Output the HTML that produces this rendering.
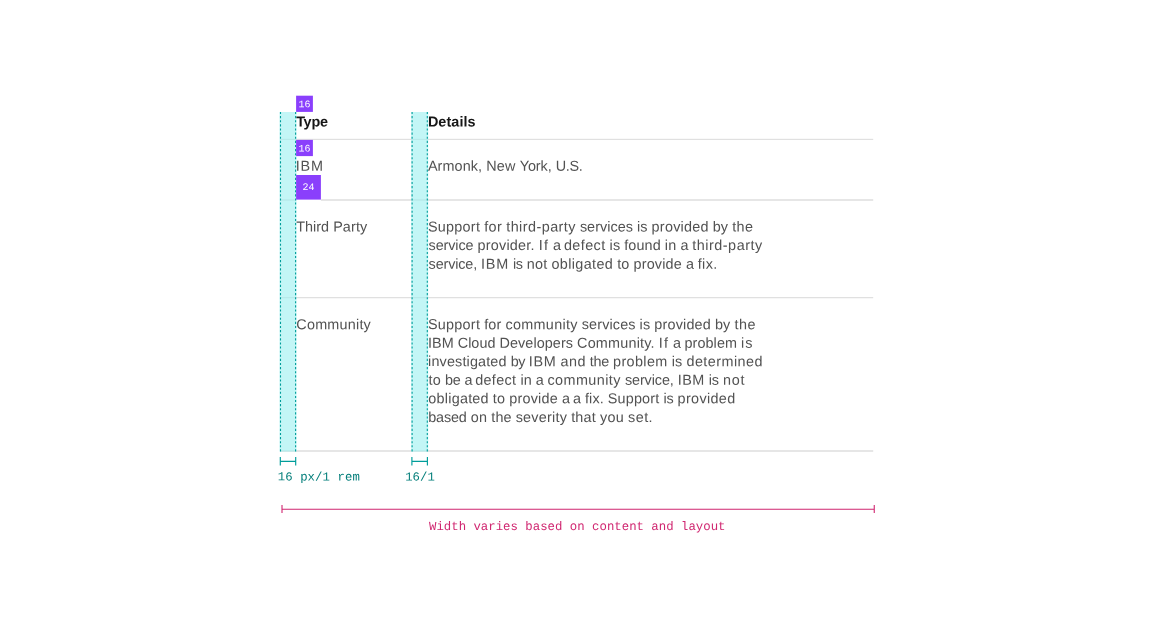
<!DOCTYPE html>
<html lang="en">
<head>
<meta charset="utf-8">
<title>Structured list spacing</title>
<style>
html,body{margin:0;padding:0;background:#fff;}
body{width:1152px;height:624px;overflow:hidden;position:relative;}
svg{position:absolute;left:0;top:0;display:block;}
text{white-space:pre;}
.b{font-family:"Liberation Sans",sans-serif;font-size:14.4px;fill:#525252;}
.h{font-family:"Liberation Sans",sans-serif;font-size:14.4px;font-weight:bold;fill:#161616;}
.m{font-family:"Liberation Mono","DejaVu Sans Mono",monospace;font-size:12.34px;}
.t{fill:#007d79;}
.p{fill:#d02670;}
.n{font-family:"Liberation Mono","DejaVu Sans Mono",monospace;font-size:10px;fill:#fff;text-anchor:middle;}
</style>
</head>
<body>
<svg width="1152" height="624" viewBox="0 0 1152 624">
  <!-- row rules -->
  <g fill="#e0e0e0">
    <rect x="280" y="138.8" width="593.2" height="1.2"/>
    <rect x="280" y="199.2" width="16.1" height="1.6"/><rect x="320.9" y="199.2" width="552.3" height="1.6"/>
    <rect x="280" y="297" width="593.2" height="1.25"/>
    <rect x="280" y="450.2" width="593.2" height="1.6"/>
  </g>
  <!-- spacing bands -->
  <g>
    <rect x="279.5" y="112" width="17" height="339.6" fill="#9ef0f0" fill-opacity="0.62"/>
    <rect x="411.2" y="112" width="17" height="339.6" fill="#9ef0f0" fill-opacity="0.62"/>
    <g stroke="#009d9a" stroke-width="1.1" stroke-dasharray="2.1 2.0143" fill="none">
      <line x1="280.5" y1="112" x2="280.5" y2="451.6"/>
      <line x1="295.6" y1="112" x2="295.6" y2="451.6"/>
      <line x1="412.1" y1="112" x2="412.1" y2="451.6"/>
      <line x1="427.3" y1="112" x2="427.3" y2="451.6"/>
    </g>
  </g>
  <!-- purple spacer tokens -->
  <g fill="#8a3ffc">
    <rect x="296.1" y="95.7" width="16.8" height="16.2"/>
    <rect x="296.1" y="139.9" width="16.8" height="16.2"/>
    <rect x="296.1" y="175" width="24.8" height="24.6"/>
  </g>

  <!-- table text (tiny skew enables sub-pixel vertical placement) -->
  <g transform="matrix(1 0.0005 0 1 0 0)">
  <text class="h" x="296.15" y="126.44" textLength="31.82" lengthAdjust="spacing">Type</text>
  <text class="h" x="427.90" y="126.37" textLength="47.73" lengthAdjust="spacing">Details</text>
  <text class="b" x="295.80" y="170.70" textLength="27.23" lengthAdjust="spacing">IBM</text>
  <text class="b" x="427.90" y="170.62" textLength="58.25" lengthAdjust="spacing">Armonk, </text>
  <text class="b" x="486.15" y="170.60" textLength="33.55" lengthAdjust="spacing">New </text>
  <text class="b" x="519.70" y="170.58" textLength="35.95" lengthAdjust="spacing">York, </text>
  <text class="b" x="555.65" y="170.57" textLength="27.12" lengthAdjust="spacing">U.S.</text>
  <text class="b" x="296.30" y="231.29" textLength="36.85" lengthAdjust="spacing">Third </text>
  <text class="b" x="333.15" y="231.27" textLength="34.08" lengthAdjust="spacing">Party</text>
  <text class="b" x="428.00" y="231.22" textLength="56.15" lengthAdjust="spacing">Support </text>
  <text class="b" x="484.15" y="231.20" textLength="22.10" lengthAdjust="spacing">for </text>
  <text class="b" x="506.25" y="231.18" textLength="73.65" lengthAdjust="spacing">third-party </text>
  <text class="b" x="579.90" y="231.15" textLength="57.10" lengthAdjust="spacing">services </text>
  <text class="b" x="637.00" y="231.13" textLength="14.60" lengthAdjust="spacing">is </text>
  <text class="b" x="651.60" y="231.11" textLength="61.20" lengthAdjust="spacing">provided </text>
  <text class="b" x="712.80" y="231.09" textLength="19.35" lengthAdjust="spacing">by </text>
  <text class="b" x="732.15" y="231.08" textLength="21.00" lengthAdjust="spacing">the</text>
  <text class="b" x="428.60" y="249.77" textLength="48.80" lengthAdjust="spacing">service </text>
  <text class="b" x="477.40" y="249.75" textLength="61.45" lengthAdjust="spacing">provider. </text>
  <text class="b" x="538.85" y="249.73" textLength="14.15" lengthAdjust="spacing">If </text>
  <text class="b" x="553.00" y="249.72" textLength="10.95" lengthAdjust="spacing">a </text>
  <text class="b" x="563.95" y="249.71" textLength="45.65" lengthAdjust="spacing">defect </text>
  <text class="b" x="609.60" y="249.69" textLength="14.65" lengthAdjust="spacing">is </text>
  <text class="b" x="624.25" y="249.68" textLength="40.55" lengthAdjust="spacing">found </text>
  <text class="b" x="664.80" y="249.66" textLength="15.65" lengthAdjust="spacing">in </text>
  <text class="b" x="680.45" y="249.66" textLength="11.70" lengthAdjust="spacing">a </text>
  <text class="b" x="692.15" y="249.64" textLength="70.12" lengthAdjust="spacing">third-party</text>
  <text class="b" x="428.60" y="268.52" textLength="52.45" lengthAdjust="spacing">service, </text>
  <text class="b" x="481.05" y="268.50" textLength="31.95" lengthAdjust="spacing">IBM </text>
  <text class="b" x="513.00" y="268.49" textLength="13.70" lengthAdjust="spacing">is </text>
  <text class="b" x="526.70" y="268.48" textLength="24.80" lengthAdjust="spacing">not </text>
  <text class="b" x="551.50" y="268.46" textLength="65.65" lengthAdjust="spacing">obligated </text>
  <text class="b" x="617.15" y="268.44" textLength="16.35" lengthAdjust="spacing">to </text>
  <text class="b" x="633.50" y="268.42" textLength="52.50" lengthAdjust="spacing">provide </text>
  <text class="b" x="686.00" y="268.40" textLength="11.75" lengthAdjust="spacing">a </text>
  <text class="b" x="697.75" y="268.40" textLength="19.48" lengthAdjust="spacing">fix.</text>
  <text class="b" x="296.35" y="329.13" textLength="74.47" lengthAdjust="spacing">Community</text>
  <text class="b" x="428.00" y="328.92" textLength="56.15" lengthAdjust="spacing">Support </text>
  <text class="b" x="484.15" y="328.90" textLength="21.30" lengthAdjust="spacing">for </text>
  <text class="b" x="505.45" y="328.88" textLength="76.35" lengthAdjust="spacing">community </text>
  <text class="b" x="581.80" y="328.84" textLength="57.80" lengthAdjust="spacing">services </text>
  <text class="b" x="639.60" y="328.83" textLength="14.70" lengthAdjust="spacing">is </text>
  <text class="b" x="654.30" y="328.81" textLength="60.70" lengthAdjust="spacing">provided </text>
  <text class="b" x="715.00" y="328.79" textLength="19.45" lengthAdjust="spacing">by </text>
  <text class="b" x="734.45" y="328.78" textLength="21.00" lengthAdjust="spacing">the</text>
  <text class="b" x="427.95" y="347.58" textLength="29.75" lengthAdjust="spacing">IBM </text>
  <text class="b" x="457.70" y="347.56" textLength="41.85" lengthAdjust="spacing">Cloud </text>
  <text class="b" x="499.55" y="347.53" textLength="77.50" lengthAdjust="spacing">Developers </text>
  <text class="b" x="577.05" y="347.49" textLength="81.70" lengthAdjust="spacing">Community. </text>
  <text class="b" x="658.75" y="347.47" textLength="14.30" lengthAdjust="spacing">If </text>
  <text class="b" x="673.05" y="347.46" textLength="11.35" lengthAdjust="spacing">a </text>
  <text class="b" x="684.40" y="347.44" textLength="56.70" lengthAdjust="spacing">problem </text>
  <text class="b" x="741.10" y="347.43" textLength="11.49" lengthAdjust="spacing">is</text>
  <text class="b" x="428.10" y="365.92" textLength="82.60" lengthAdjust="spacing">investigated </text>
  <text class="b" x="510.70" y="365.89" textLength="18.15" lengthAdjust="spacing">by </text>
  <text class="b" x="528.85" y="365.88" textLength="31.65" lengthAdjust="spacing">IBM </text>
  <text class="b" x="560.50" y="365.86" textLength="29.35" lengthAdjust="spacing">and </text>
  <text class="b" x="589.85" y="365.85" textLength="23.15" lengthAdjust="spacing">the </text>
  <text class="b" x="613.00" y="365.83" textLength="58.70" lengthAdjust="spacing">problem </text>
  <text class="b" x="671.70" y="365.81" textLength="14.75" lengthAdjust="spacing">is </text>
  <text class="b" x="686.45" y="365.79" textLength="76.09" lengthAdjust="spacing">determined</text>
  <text class="b" x="428.50" y="384.48" textLength="16.50" lengthAdjust="spacing">to </text>
  <text class="b" x="445.00" y="384.47" textLength="19.50" lengthAdjust="spacing">be </text>
  <text class="b" x="464.50" y="384.47" textLength="10.65" lengthAdjust="spacing">a </text>
  <text class="b" x="475.15" y="384.45" textLength="45.25" lengthAdjust="spacing">defect </text>
  <text class="b" x="520.40" y="384.44" textLength="15.45" lengthAdjust="spacing">in </text>
  <text class="b" x="535.85" y="384.43" textLength="11.65" lengthAdjust="spacing">a </text>
  <text class="b" x="547.50" y="384.41" textLength="77.40" lengthAdjust="spacing">community </text>
  <text class="b" x="624.90" y="384.37" textLength="52.80" lengthAdjust="spacing">service, </text>
  <text class="b" x="677.70" y="384.35" textLength="31.10" lengthAdjust="spacing">IBM </text>
  <text class="b" x="708.80" y="384.34" textLength="14.10" lengthAdjust="spacing">is </text>
  <text class="b" x="722.90" y="384.33" textLength="21.58" lengthAdjust="spacing">not</text>
  <text class="b" x="428.35" y="402.97" textLength="64.50" lengthAdjust="spacing">obligated </text>
  <text class="b" x="492.85" y="402.95" textLength="16.35" lengthAdjust="spacing">to </text>
  <text class="b" x="509.20" y="402.93" textLength="52.80" lengthAdjust="spacing">provide </text>
  <text class="b" x="562.00" y="402.92" textLength="10.95" lengthAdjust="spacing">a </text>
  <text class="b" x="572.95" y="402.91" textLength="12.10" lengthAdjust="spacing">a </text>
  <text class="b" x="585.05" y="402.90" textLength="22.70" lengthAdjust="spacing">fix. </text>
  <text class="b" x="607.75" y="402.88" textLength="55.65" lengthAdjust="spacing">Support </text>
  <text class="b" x="663.40" y="402.86" textLength="14.20" lengthAdjust="spacing">is </text>
  <text class="b" x="677.60" y="402.85" textLength="57.57" lengthAdjust="spacing">provided</text>
  <text class="b" x="428.20" y="421.78" textLength="42.45" lengthAdjust="spacing">based </text>
  <text class="b" x="470.65" y="421.76" textLength="20.70" lengthAdjust="spacing">on </text>
  <text class="b" x="491.35" y="421.75" textLength="24.35" lengthAdjust="spacing">the </text>
  <text class="b" x="515.70" y="421.73" textLength="55.45" lengthAdjust="spacing">severity </text>
  <text class="b" x="571.15" y="421.71" textLength="28.80" lengthAdjust="spacing">that </text>
  <text class="b" x="599.95" y="421.69" textLength="28.15" lengthAdjust="spacing">you </text>
  <text class="b" x="628.10" y="421.68" textLength="24.50" lengthAdjust="spacing">set.</text>
  <text class="n" x="304.45" y="107.15">16</text>
  <text class="n" x="304.45" y="151.35">16</text>
  <text class="n" x="308.5" y="189.85">24</text>
  <text class="m t" x="277.8" y="480.24" textLength="82.0" lengthAdjust="spacing">16 px/1 rem</text>
  <text class="m t" x="405.2" y="480.19" textLength="29.7" lengthAdjust="spacing">16/1</text>
  <text class="m p" x="429.0" y="529.71" textLength="296.5" lengthAdjust="spacing">Width varies based on content and layout</text>
  </g>

  <!-- 16px markers -->
  <g stroke="#009d9a" stroke-width="1.15" fill="none">
    <path d="M280.3 457.1V465.6M295.7 457.1V465.6M280.3 461.3H295.7"/>
    <path d="M411.9 457.1V465.6M427.4 457.1V465.6M411.9 461.3H427.4"/>
  </g>

  <!-- width marker -->
  <g stroke="#d02670" stroke-width="1.1" fill="none">
    <path d="M282 505V513.1M874.25 505V513.1M282 509.25H874.25"/>
  </g>
</svg>
</body>
</html>
